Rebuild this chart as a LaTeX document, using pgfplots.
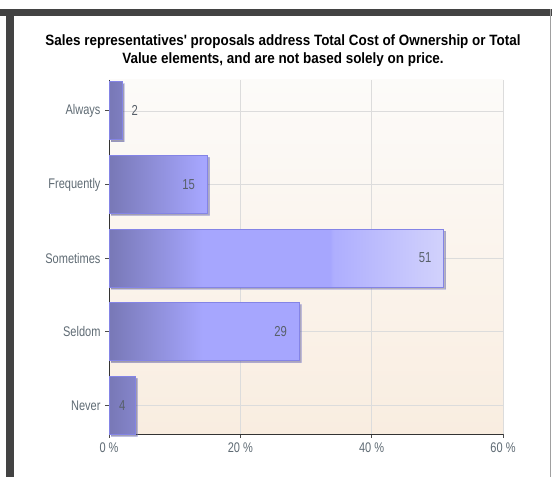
\documentclass[border=0pt]{standalone}
\usepackage{fontspec}
\setmainfont{Liberation Sans}
\newfontfamily\tickfont[FakeStretch=0.79]{Liberation Sans}
\newfontfamily\valfont[FakeStretch=0.78]{Liberation Sans}
\newfontfamily\titlefont[FakeStretch=0.9]{Liberation Sans}
\usepackage{pgfplots}
\pgfplotsset{compat=1.18}
\usetikzlibrary{shadows}
\definecolor{framegray}{HTML}{434343}
\definecolor{edgegray}{HTML}{A0A0A0}
\definecolor{tickgray}{HTML}{5F6B74}
\definecolor{labelgray}{HTML}{58606A}
\definecolor{barleft}{HTML}{7878B6}
\definecolor{barmid}{HTML}{A6A6FE}
\definecolor{barmidb}{HTML}{AEAEFE}
\definecolor{barright}{HTML}{D2D2FC}
\definecolor{barborder}{HTML}{8484E6}
\definecolor{bgtop}{HTML}{FCFBF9}
\definecolor{bgbottom}{HTML}{F9EDE0}
\definecolor{gridgray}{HTML}{DCDCDC}
\pgfdeclarehorizontalshading{barshade}{100bp}{color(0bp)=(barleft); color(25bp)=(barleft); color(39bp)=(barmid); color(58bp)=(barmid); color(58.5bp)=(barmidb); color(75bp)=(barright); color(100bp)=(barright)}
\begin{document}
\begin{tikzpicture}[x=1bp,y=1bp]
\fill[white] (0,0) rectangle (552,477);
\fill[framegray] (0,461) rectangle (552,468);
\fill[framegray] (6,0) rectangle (14,468);
\draw[edgegray, line width=1bp] (550.5,0) -- (550.5,468);
\node[font=\titlefont\fontsize{15}{18}\selectfont\bfseries, align=center] at (283,426)
  {Sales representatives' proposals address Total Cost of Ownership or Total\\Value elements, and are not based solely on price.};
\begin{axis}[
  at={(109bp,43bp)}, anchor=south west,
  scale only axis, width=394bp, height=354bp,
  xmin=0, xmax=60, ymin=-0.39, ymax=4.42,
  axis background/.style={top color=bgtop, bottom color=bgbottom},
  axis x line*=bottom, axis y line*=left,
  axis line style={draw=black!80, line width=0.8bp},
  xtick={0,20,40,60}, xticklabels={0 \%,20 \%,40 \%,60 \%},
  ytick={0,1,2,3,4}, yticklabels={Never,Seldom,Sometimes,Frequently,Always},
  tick align=outside, major tick length=4bp,
  tick style={draw=black!70, line width=0.8bp},
  ticklabel style={font=\tickfont\fontsize{14}{16}\selectfont, text=tickgray},
  xticklabel style={yshift=-1bp},
  yticklabel style={xshift=-1bp},
  grid=major, grid style={gridgray, line width=0.6bp},
  clip=false,
]
\addplot[xbar, bar width=58bp, bar shift=0pt, draw=barborder, line width=1bp,
  shading=barshade,
  drop shadow={shadow xshift=2bp, shadow yshift=-2bp, fill=black, opacity=0.3}]
  coordinates {(4,0) (29,1) (51,2) (15,3) (2,4)};
\addplot[draw=none, mark=none, nodes near coords, point meta=explicit symbolic,
  nodes near coords style={anchor=east, xshift=-9bp, font=\valfont\fontsize{14.5}{16}\selectfont, text=labelgray}]
  coordinates {(29,1) [29] (51,2) [51] (15,3) [15]};
\addplot[draw=none, mark=none, nodes near coords, point meta=explicit symbolic,
  nodes near coords style={anchor=center, font=\valfont\fontsize{14.5}{16}\selectfont, text=labelgray}]
  coordinates {(2,0) [4]};
\addplot[draw=none, mark=none, nodes near coords, point meta=explicit symbolic,
  nodes near coords style={anchor=west, xshift=6bp, font=\valfont\fontsize{14.5}{16}\selectfont, text=labelgray}]
  coordinates {(2,4) [2]};
\end{axis}
\end{tikzpicture}
\end{document}
